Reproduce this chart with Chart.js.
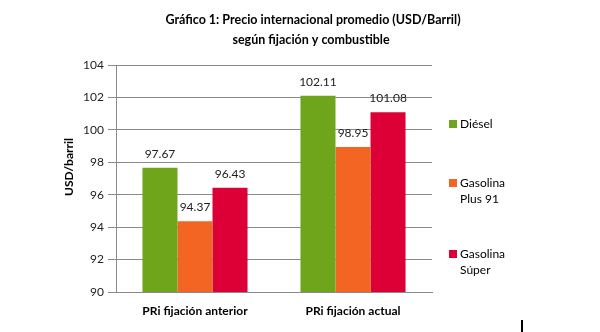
<!DOCTYPE html>
<html>
<head>
<meta charset="utf-8">
<script src="https://cdn.jsdelivr.net/npm/chart.js@4"></script>
<style>
  html, body { margin: 0; padding: 0; background: #fff; }
  #wrap { width: 600px; height: 332px; position: relative; }
</style>
</head>
<body>
<div id="wrap"><canvas id="chart" width="600" height="332"></canvas></div>
<script>
// Data
const categories = ['PRi fijación anterior', 'PRi fijación actual'];
const seriesNames = ['Diésel', 'Gasolina Plus 91', 'Gasolina Súper'];
const legendLines = [['Diésel'], ['Gasolina', 'Plus 91'], ['Gasolina', 'Súper']];
const dieselValues = [97.67, 102.11];
const plus91Values = [94.37, 98.95];
const superValues = [96.43, 101.08];
const colors = ['#6ea51b', '#f26522', '#dc0037'];
const titleLines = ['Gráfico 1: Precio internacional promedio (USD/Barril)', 'según fijación y combustible'];
const axisTitle = 'USD/barril';

const FONT = 'Lato, "Open Sans", sans-serif';

// Title, axis title, value labels and the right-hand legend
const extras = {
  id: 'extras',
  afterDatasetsDraw(chart) {
    const ctx = chart.ctx;
    ctx.save();
    ctx.textAlign = 'center';
    ctx.textBaseline = 'middle';

    // value labels above bars
    ctx.font = '12px ' + FONT;
    ctx.fillStyle = '#222';
    chart.data.datasets.forEach((ds, i) => {
      chart.getDatasetMeta(i).data.forEach((bar, j) => {
        ctx.fillText(ds.data[j].toFixed(2), bar.x, bar.y - 14);
      });
    });

    // title
    ctx.fillStyle = '#000';
    ctx.font = 'bold 12.5px ' + FONT;
    ctx.fillText(titleLines[0], 313, 20);
    ctx.fillText(titleLines[1], 311, 40);

    // y axis title
    ctx.save();
    ctx.translate(69, 167);
    ctx.rotate(-Math.PI / 2);
    ctx.font = 'bold 12px ' + FONT;
    ctx.fillText(axisTitle, 0, 0);
    ctx.restore();

    // legend
    const legendY = [124, 183, 254];
    ctx.textAlign = 'left';
    ctx.font = '12px ' + FONT;
    legendLines.forEach((lines, i) => {
      ctx.fillStyle = colors[i];
      ctx.fillRect(449, legendY[i] - 4, 8, 8);
      ctx.fillStyle = '#000';
      lines.forEach((t, k) => ctx.fillText(t, 460, legendY[i] + k * 16));
    });

    // small stray mark in the bottom right corner of the original
    ctx.fillStyle = '#000';
    ctx.fillRect(521, 320, 2, 12);
    ctx.restore();
  }
};

new Chart(document.getElementById('chart'), {
  type: 'bar',
  data: {
    labels: categories,
    datasets: [
      { label: seriesNames[0], data: dieselValues, backgroundColor: colors[0] },
      { label: seriesNames[1], data: plus91Values, backgroundColor: colors[1] },
      { label: seriesNames[2], data: superValues, backgroundColor: colors[2] }
    ]
  },
  options: {
    responsive: false,
    animation: false,
    datasets: { bar: { categoryPercentage: 0.665, barPercentage: 1 } },
    layout: { padding: { left: 0, top: 65, right: 168, bottom: 0 } },
    plugins: { legend: { display: false }, tooltip: { enabled: false } },
    scales: {
      x: {
        afterFit: s => { s.height = 40; },
        grid: { display: false },
        border: { color: '#8a8a8a' },
        ticks: { font: { family: FONT, size: 12, weight: 'bold' }, color: '#000', padding: 4 }
      },
      y: {
        min: 90,
        max: 104,
        afterFit: s => { s.width = 116; },
        ticks: { stepSize: 2, font: { family: FONT, size: 12 }, color: '#222', padding: 4 },
        grid: { color: '#8a8a8a', tickLength: 8 },
        border: { color: '#8a8a8a' }
      }
    }
  },
  plugins: [extras]
});
</script>
</body>
</html>
